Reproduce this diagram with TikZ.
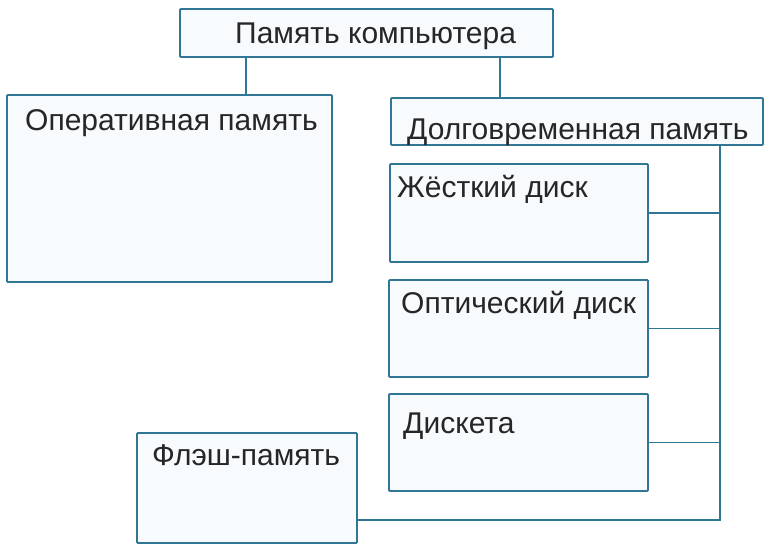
\documentclass[tikz,border=0pt]{standalone}
\usepackage{fontspec}
\setmainfont{Liberation Sans}
\definecolor{edgecol}{RGB}{50,118,150}
\definecolor{boxfill}{RGB}{247,251,253}
\tikzset{
  box/.style={draw=edgecol, fill=boxfill, line width=1.8pt, rounded corners=1pt, inner sep=0pt, rectangle},
  lbl/.style={anchor=base west, inner sep=0pt, font=\fontsize{30}{32}\selectfont, text=black!85},
  link/.style={draw=edgecol, line width=1.7pt}
}
\begin{document}
\begin{tikzpicture}[x=1pt,y=-1pt]
\useasboundingbox[fill=white] (0,0) rectangle (772,550);
% boxes
\node[box, minimum width=373pt, minimum height=48pt] (top) at (366.5,33) {};
\node[box, minimum width=325pt, minimum height=187pt] (oper) at (169.5,188.5) {};
\node[box, minimum width=372pt, minimum height=47pt] (dolg) at (577,121.5) {};
\node[box, minimum width=258pt, minimum height=98pt] (hdd) at (519,213) {};
\node[box, minimum width=259pt, minimum height=97pt] (opt) at (518.5,328.5) {};
\node[box, minimum width=259pt, minimum height=97pt] (disk) at (518.5,442.5) {};
\node[box, minimum width=220pt, minimum height=110pt] (flash) at (247,488) {};
% labels
\node[lbl] (tTop) at (235,43) {Память компьютера};
\node[lbl] (tOper) at (25,130) {Оперативная память};
\node[lbl] (tDolg) at (407,139) {Долговременная память};
\node[lbl] (tHdd) at (397,197) {Жёсткий диск};
\node[lbl] (tOpt) at (401,313) {Оптический диск};
\node[lbl] (tDisk) at (403,433) {Дискета};
\node[lbl] (tFlash) at (152,465) {Флэш-память};
% connectors
\coordinate (cL) at (246,0);
\coordinate (cR) at (500,0);
\coordinate (bus) at (720,520);
\draw[link] (top.south -| cL) -- (oper.north -| cL);
\draw[link] (top.south -| cR) -- (dolg.north -| cR);
\draw[link] (dolg.south -| bus) -- (bus) -- (bus -| flash.east);
\draw[link] (hdd.east) -- (hdd.east -| bus);
\draw[link] (opt.east) -- (opt.east -| bus);
\draw[link] (disk.east) -- (disk.east -| bus);
\end{tikzpicture}
\end{document}
